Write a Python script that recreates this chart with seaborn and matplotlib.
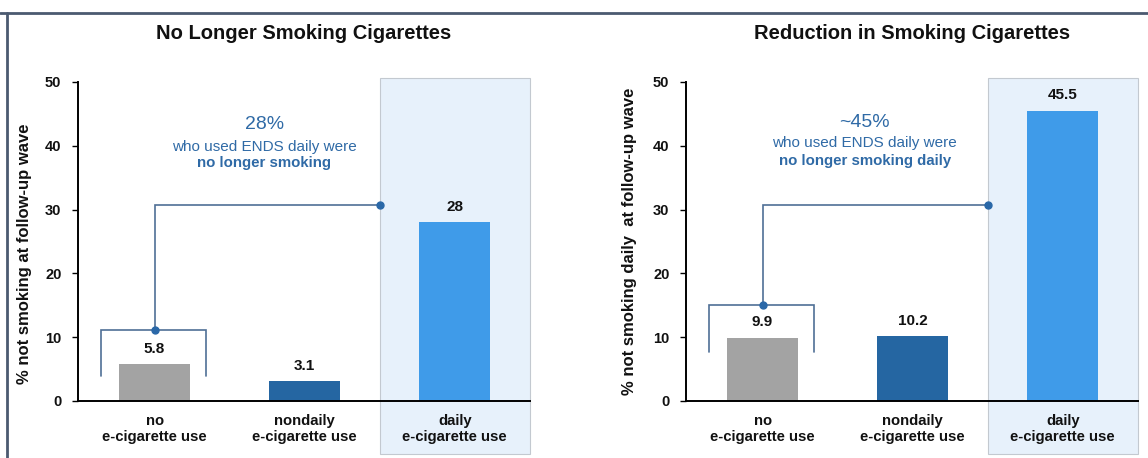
import matplotlib
matplotlib.use("Agg")
import matplotlib.pyplot as plt
import seaborn as sns
import pandas as pd
from matplotlib.patches import Rectangle
from matplotlib.lines import Line2D

# ---- data -------------------------------------------------------------
categories = ["no\ne-cigarette use", "nondaily\ne-cigarette use", "daily\ne-cigarette use"]
quit_values = [5.8, 3.1, 28]          # % not smoking at follow-up
reduce_values = [9.9, 10.2, 45.5]     # % not smoking daily at follow-up
y_ticks = [0, 10, 20, 30, 40, 50]

panel_titles = ["No Longer Smoking Cigarettes", "Reduction in Smoking Cigarettes"]
y_labels = ["% not smoking at follow-up wave", "% not smoking daily  at follow-up wave"]
callout_headline = ["28%", "~45%"]
callout_middle = "who used ENDS daily were"
callout_bold = ["no longer smoking", "no longer smoking daily"]

# ---- style ------------------------------------------------------------
bar_colors = ["#a3a3a3", "#2566a2", "#3f9be9"]
band_color = "#e7f1fb"
band_edge = "#c3c9d0"
link_color = "#4f6f96"
dot_color = "#2a68a8"
callout_color = "#2f6aa6"
frame_color = "#4b5a70"

sns.set_style("white")
plt.rcParams["font.family"] = ["Liberation Sans", "DejaVu Sans"]

fig = plt.figure(figsize=(11.48, 4.58), dpi=100)
axes = [fig.add_axes([0.068, 0.1245, 0.3935, 0.6965]),
        fig.add_axes([0.5976, 0.1245, 0.3935, 0.6965])]

panel_values = [quit_values, reduce_values]
bracket_top = [11.1, 15.0]
bracket_foot = [3.9, 7.7]
connector_y = 30.7
callout_x = [0.73, 0.68]
callout_y = [(43.3, 39.8, 37.3), (43.6, 40.4, 37.6)]
label_pos = [(-0.102, 0.46), (-0.108, 0.50)]

for i, ax in enumerate(axes):
    df = pd.DataFrame({"group": categories, "value": panel_values[i]})

    # highlighted band behind the daily-use bar, spilling past the axes
    band = Rectangle((1.5, -0.165), 1.0, 1.177,
                     transform=ax.get_xaxis_transform(),
                     facecolor=band_color, edgecolor=band_edge, linewidth=0.8,
                     clip_on=False, zorder=0)
    ax.add_patch(band)

    sns.barplot(data=df, x="group", y="value", hue="group",
                palette=bar_colors, order=categories, hue_order=categories,
                width=0.475, saturation=1, legend=False, ax=ax, zorder=2,
                edgecolor="none", linewidth=0)

    for cont in ax.containers:
        ax.bar_label(cont, fmt="{:g}", padding=6, fontsize=11,
                     fontweight="bold", color="#111111")

    ax.set_xlim(-0.51, 2.5)
    ax.set_ylim(0, 50)
    ax.set_yticks(y_ticks)
    ax.set_facecolor("none")
    ax.patch.set_alpha(0)

    for side in ("top", "right"):
        ax.spines[side].set_visible(False)
    for side in ("left", "bottom"):
        ax.spines[side].set_color("#000000")
        ax.spines[side].set_linewidth(1.4)
        ax.spines[side].set_zorder(3)

    ax.tick_params(axis="y", left=True, length=4, width=1, color="#000000",
                   pad=8, labelsize=10.5)
    ax.tick_params(axis="x", bottom=False, pad=6, labelsize=10.7)
    for lab in ax.get_yticklabels() + ax.get_xticklabels():
        lab.set_fontweight("bold")
        lab.set_color("#111111")

    ax.set_xlabel("")
    ax.set_ylabel(y_labels[i], fontsize=12, fontweight="bold", color="#111111")
    ax.yaxis.set_label_coords(*label_pos[i])

    ax.text(0.5, 1.153, panel_titles[i], transform=ax.transAxes,
            ha="center", va="center", fontsize=14.5, fontweight="bold",
            color="#111111")

    # bracket over the no-use bar and link to the daily-use band
    lw = 1.2
    ax.plot([-0.36, -0.36, 0.345, 0.345],
            [bracket_foot[i], bracket_top[i], bracket_top[i], bracket_foot[i]],
            color=link_color, lw=lw, zorder=4, clip_on=False,
            solid_joinstyle="miter")
    ax.plot([0, 0, 1.5], [bracket_top[i], connector_y, connector_y],
            color=link_color, lw=lw, zorder=4, clip_on=False,
            solid_joinstyle="miter")
    ax.plot([0, 1.5], [bracket_top[i], connector_y], linestyle="none",
            marker="o", markersize=5, color=dot_color, zorder=5, clip_on=False)

    # callout text
    cx = callout_x[i]
    y1, y2, y3 = callout_y[i]
    ax.text(cx, y1, callout_headline[i], ha="center", va="center",
            fontsize=14, color=callout_color)
    ax.text(cx, y2, callout_middle, ha="center", va="center",
            fontsize=11, color=callout_color)
    ax.text(cx, y3, callout_bold[i], ha="center", va="center",
            fontsize=10.8, fontweight="bold", color=callout_color)

# slide frame: top rule and left rule
fig.add_artist(Line2D([0, 1], [1 - 13 / 458, 1 - 13 / 458],
                      transform=fig.transFigure, color=frame_color, lw=2))
fig.add_artist(Line2D([7 / 1148, 7 / 1148], [0, 1 - 13 / 458],
                      transform=fig.transFigure, color=frame_color, lw=2))

fig.savefig("out.png", dpi=100, facecolor="white")
